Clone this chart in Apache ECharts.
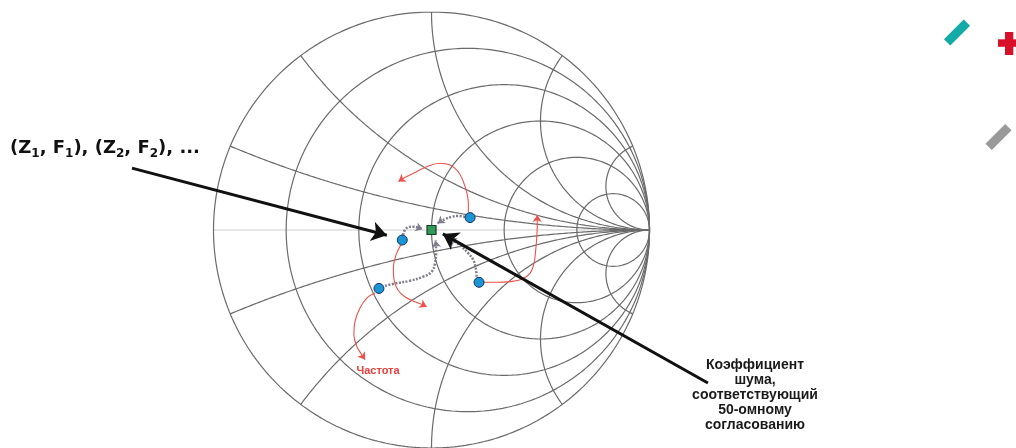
<!DOCTYPE html>
<html><head><meta charset="utf-8">
<script src="https://cdn.jsdelivr.net/npm/echarts@6/dist/echarts.min.js"></script>
<style>html,body{margin:0;padding:0;background:#fff}#c{width:1016px;height:448px}</style>
</head><body><div id="c"></div>
<script>
// Smith chart grid: normalized resistance circles and reactance arcs
const resistanceCircles = [0.2, 0.5, 1, 2, 5];
const reactanceArcs = [0.2, 0.5, 1, 2, 5, -0.2, -0.5, -1, -2, -5];

// Measured source points (reflection coefficient plane, Γ = (re, im))
const sourcePoints = [[0.177, 0.057], [-0.134, -0.046], [-0.241, -0.268], [0.218, -0.240]];
// 50-ohm match (noise figure for 50-ohm match)
const matchPoint = [[0, 0]];

// Dotted paths from each point towards the 50-ohm centre
const dottedA = [[0.154, 0.061], [0.122, 0.064], [0.094, 0.061], [0.062, 0.050], [0.039, 0.038], [0.028, 0.030]];
const dottedB = [[-0.131, -0.023], [-0.122, 0.000], [-0.108, 0.012], [-0.085, 0.015], [-0.062, 0.011], [-0.041, 0.003]];
const dottedC = [[-0.213, -0.256], [-0.160, -0.244], [-0.099, -0.233], [-0.038, -0.214], [0.001, -0.191], [0.016, -0.153], [0.021, -0.107], [0.021, -0.069], [0.018, -0.048]];
const dottedD = [[0.207, -0.214], [0.203, -0.176], [0.192, -0.138], [0.169, -0.107], [0.139, -0.077], [0.108, -0.054], [0.083, -0.037]];

// Red "frequency" trajectories
const freqA = [[0.169, 0.083], [0.169, 0.122], [0.154, 0.199], [0.123, 0.267], [0.085, 0.298], [0.039, 0.306], [-0.022, 0.290], [-0.083, 0.260], [-0.129, 0.237], [-0.152, 0.222]];
const freqB = [[-0.140, -0.067], [-0.163, -0.115], [-0.175, -0.174], [-0.172, -0.229], [-0.154, -0.275], [-0.122, -0.306], [-0.076, -0.329], [-0.038, -0.344], [-0.022, -0.352]];
const freqC = [[-0.259, -0.289], [-0.297, -0.312], [-0.328, -0.358], [-0.351, -0.419], [-0.356, -0.480], [-0.343, -0.533], [-0.320, -0.572], [-0.305, -0.595]];
const freqD = [[0.238, -0.240], [0.299, -0.240], [0.360, -0.237], [0.414, -0.226], [0.452, -0.199], [0.470, -0.153], [0.478, -0.092], [0.483, -0.031], [0.485, 0.015], [0.485, 0.069]];

// Callout arrows (tail, tip) in Γ plane
const calloutPairs = [[[-1.374, 0.284], [-0.205, -0.024]], [[1.268, -0.702], [0.052, -0.018]]];

// Texts
const titleText = '(Z{s|1}, F{s|1}), (Z{s|2}, F{s|2}), ...';
const freqLabel = 'Частота';
const noteLines = ['Коэффициент', 'шума,', 'соответствующий', '50-омному', 'согласованию'];

function gamma(r, x) {
  const d = (r + 1) * (r + 1) + x * x;
  return [(r * r - 1 + x * x) / d, (2 * x) / d];
}
function rCircle(r) {
  const c = r / (r + 1), rho = 1 / (r + 1), pts = [];
  for (let i = 0; i <= 360; i++) { const a = i * Math.PI / 180; pts.push([c + rho * Math.cos(a), rho * Math.sin(a)]); }
  return pts;
}
function xArc(x) {
  const pts = [];
  for (let i = 0; i < 400; i++) { const t = i / 400; pts.push(gamma(t / (1 - t), x)); }
  pts.push([1, 0]);
  return pts;
}
const gridColor = '#6a6a6a';
const series = [];
function gridLine(data, color, width) {
  series.push({ type: 'line', data: data, showSymbol: false, symbol: 'none', silent: true, smooth: false,
    lineStyle: { color: color, width: width }, z: 1 });
}
gridLine([[-1, 0], [1, 0]], '#d0d0d0', 1.2);
gridLine(rCircle(0), gridColor, 1.2);
resistanceCircles.forEach(r => gridLine(rCircle(r), gridColor, 1.2));
reactanceArcs.forEach(x => gridLine(xArc(x), gridColor, 1.2));

function curve(data, color, width, type) {
  series.push({ type: 'line', data: data, showSymbol: false, symbol: 'none', silent: true, smooth: 0.4,
    lineStyle: { color: color, width: width, type: type }, z: 3 });
  const n = data.length;
  series.push({ type: 'lines', coordinateSystem: 'cartesian2d', silent: true, clip: false,
    symbol: ['none', 'arrow'], symbolSize: 7,
    lineStyle: { color: color, width: 0.01, opacity: 1 },
    data: [{ coords: [data[n - 2], data[n - 1]] }], z: 4 });
}
[dottedA, dottedB, dottedC, dottedD].forEach(d => curve(d, '#7e7e8e', 2.5, [2, 1.5]));
[freqA, freqB, freqC, freqD].forEach(d => curve(d, '#f0504a', 1.1, 'solid'));

series.push({ type: 'lines', coordinateSystem: 'cartesian2d', silent: true, clip: false,
  symbol: ['none', 'arrow'], symbolSize: 15,
  lineStyle: { color: '#111', width: 3, opacity: 1 },
  data: calloutPairs.map(p => ({ coords: p })), z: 6 });

series.push({ type: 'scatter', data: sourcePoints, symbol: 'circle', symbolSize: 10, silent: true,
  itemStyle: { color: '#1b95d6', borderColor: '#16325e', borderWidth: 1, opacity: 1 }, z: 8 });
series.push({ type: 'scatter', data: matchPoint, symbol: 'rect', symbolSize: 9, silent: true,
  itemStyle: { color: '#2f9a5a', borderColor: '#173d22', borderWidth: 1.2, opacity: 1 }, z: 8 });

const chart = echarts.init(document.getElementById('c'), null, { renderer: 'canvas' });
chart.setOption({
  animation: false,
  backgroundColor: '#ffffff',
  grid: { left: 213.5, top: 12, width: 436, height: 436 },
  xAxis: { type: 'value', min: -1, max: 1, show: false },
  yAxis: { type: 'value', min: -1, max: 1, show: false },
  series: series,
  graphic: [
    { type: 'text', x: 10, y: 137, z: 10, style: { text: titleText, fill: '#111',
      fontFamily: 'DejaVu Sans', fontWeight: 'bold', fontSize: 18, lineHeight: 23,
      rich: { s: { fontFamily: 'DejaVu Sans', fontWeight: 'bold', fontSize: 12, lineHeight: 12, verticalAlign: 'bottom', fill: '#111' } } } },
    { type: 'text', x: 378, y: 371, z: 10, style: { text: freqLabel, fill: '#e8403a',
      fontFamily: 'Liberation Sans', fontWeight: 'bold', fontSize: 11, textAlign: 'center', textVerticalAlign: 'middle' } },
    { type: 'text', x: 755, y: 358, z: 10, style: { text: noteLines.join('\n'), fill: '#1a1a1a',
      fontFamily: 'Liberation Sans', fontWeight: 'bold', fontSize: 14, lineHeight: 15, textAlign: 'center' } },
    { type: 'rect', x: 957, y: 32.5, rotation: Math.PI / 4, z: 10, shape: { x: -14, y: -4.5, width: 28, height: 9 }, style: { fill: '#14aaa6' } },
    { type: 'rect', x: 998.5, y: 137, rotation: Math.PI / 4, z: 10, shape: { x: -14, y: -4.5, width: 28, height: 9 }, style: { fill: '#9a9a9a' } },
    { type: 'rect', x: 998, y: 39.3, z: 10, shape: { x: 0, y: 0, width: 22, height: 7.5 }, style: { fill: '#d8112b' } },
    { type: 'rect', x: 1005, y: 32, z: 10, shape: { x: 0, y: 0, width: 8.3, height: 23 }, style: { fill: '#d8112b' } }
  ]
});
</script>
</body></html>
